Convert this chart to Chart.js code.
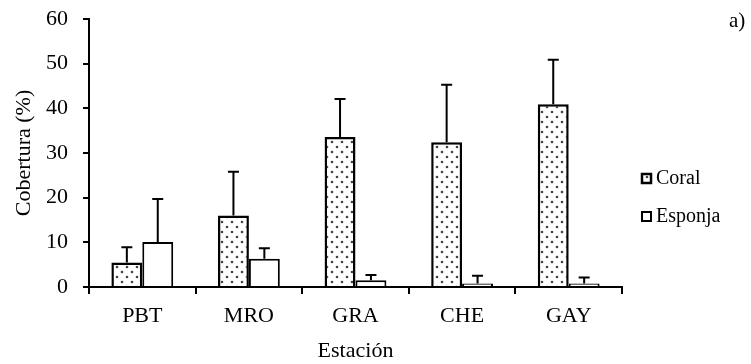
<!DOCTYPE html>
<html>
<head>
<meta charset="utf-8">
<title>Cobertura por estación</title>
<script src="https://cdn.jsdelivr.net/npm/chart.js"></script>
<style>
  body { margin: 0; background: white; }
  #wrap { width: 751px; height: 364px; position: relative; }
</style>
</head>
<body>
<div id="wrap"><canvas id="chart" width="751" height="364"></canvas></div>
<script>
// station means and standard deviations
const stations = ['PBT', 'MRO', 'GRA', 'CHE', 'GAY'];
const coral = [5.5, 16.0, 33.6, 32.4, 40.9];
const coralSD = [3.4, 9.8, 8.5, 12.9, 10.0];
const esponja = [10.1, 6.3, 1.5, 0.8, 0.8];
const esponjaSD = [9.6, 2.4, 1.2, 1.7, 1.3];
const yTicks = [0, 10, 20, 30, 40, 50, 60];

const FONT = "'Liberation Serif', 'Times New Roman', serif";

// dotted fill for the coral bars
function dotPattern() {
  const c = document.createElement('canvas');
  c.width = 10; c.height = 10;
  const g = c.getContext('2d');
  g.fillStyle = '#ffffff';
  g.fillRect(0, 0, 10, 10);
  g.fillStyle = '#444444';
  [[2, 2], [7, 7]].forEach(([x, y]) => {
    g.beginPath();
    g.arc(x, y, 1.3, 0, Math.PI * 2);
    g.fill();
  });
  return g.createPattern(c, 'repeat');
}
const ctx = document.getElementById('chart').getContext('2d');
const coralFill = dotPattern();

// upward-only error bars
const errorBars = {
  id: 'errorBars',
  afterDatasetsDraw(chart) {
    const g = chart.ctx;
    const y = chart.scales.y;
    g.save();
    g.strokeStyle = '#000';
    g.lineWidth = 2;
    chart.data.datasets.forEach((ds, i) => {
      const meta = chart.getDatasetMeta(i);
      meta.data.forEach((bar, j) => {
        const top = y.getPixelForValue(ds.data[j] + ds.sd[j]);
        g.beginPath();
        g.moveTo(bar.x, bar.y);
        g.lineTo(bar.x, top);
        g.moveTo(bar.x - 5.5, top);
        g.lineTo(bar.x + 5.5, top);
        g.stroke();
      });
    });
    g.restore();
  }
};

// legend on the right plus the panel letter
const sideLegend = {
  id: 'sideLegend',
  afterDraw(chart) {
    const g = chart.ctx;
    g.save();
    g.font = '20px ' + FONT;
    g.textBaseline = 'middle';
    const rows = [178, 216];
    chart.data.datasets.forEach((ds, i) => {
      const cy = rows[i];
      g.fillStyle = ds.backgroundColor;
      g.fillRect(641, cy - 5, 11, 11);
      g.strokeStyle = '#000';
      g.lineWidth = i === 0 ? 2.5 : 2;
      g.strokeRect(642, cy - 4, 9, 9);
      g.fillStyle = '#000';
      g.fillText(ds.label, 656, cy + 1);
    });
    g.font = '21px ' + FONT;
    g.fillText('a)', 729, 21);
    g.restore();
  }
};

new Chart(ctx, {
  type: 'bar',
  data: {
    labels: stations,
    datasets: [
      { label: 'Coral', data: coral, sd: coralSD, backgroundColor: coralFill,
        borderColor: '#000', borderWidth: 2.5 },
      { label: 'Esponja', data: esponja, sd: esponjaSD, backgroundColor: '#ffffff',
        borderColor: '#000', borderWidth: 2 }
    ]
  },
  options: {
    responsive: false,
    animation: false,
    devicePixelRatio: 1,
    layout: { padding: { top: 19, right: 129, left: 0, bottom: 0 } },
    datasets: { bar: { categoryPercentage: 0.58, barPercentage: 1 } },
    plugins: {
      legend: { display: false },
      tooltip: { enabled: false }
    },
    scales: {
      x: {
        afterFit(s) { s.height = 77; s.paddingLeft = 0; s.paddingRight = 0; },
        grid: { drawOnChartArea: false, drawTicks: true, tickLength: 7, color: '#000', lineWidth: 2 },
        border: { color: '#000', width: 2 },
        ticks: { color: '#000', font: { family: FONT, size: 22 }, padding: 9 },
        title: { display: true, text: 'Estación', color: '#000',
                 font: { family: FONT, size: 22 }, padding: { top: 0, bottom: 0 } }
      },
      y: {
        min: 0, max: 60,
        afterFit(s) { s.width = 89; s.paddingTop = 0; s.paddingBottom = 0; },
        afterBuildTicks(s) { s.ticks = yTicks.map(v => ({ value: v })); },
        grid: { drawOnChartArea: false, drawTicks: true, tickLength: 6, color: '#000', lineWidth: 2 },
        border: { color: '#000', width: 2 },
        ticks: { color: '#000', font: { family: FONT, size: 22 }, padding: 15 },
        title: { display: true, text: 'Cobertura (%)', color: '#000',
                 font: { family: FONT, size: 22 }, padding: { bottom: 0, top: 11 } }
      }
    }
  },
  plugins: [errorBars, sideLegend]
});
</script>
</body>
</html>
